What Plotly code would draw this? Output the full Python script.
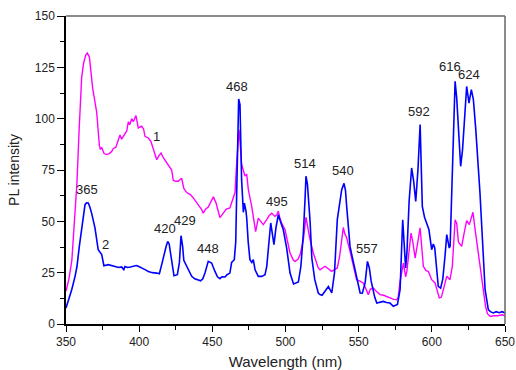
import plotly.graph_objects as go

# Series 1 (magenta)
wl1 = [350,352,354,356,357.5,359,360.7,362,363.5,364.6,366,368.2,369.5,371,372.8,373.5,374.4,376,377.8,379.5,
       381.2,382.3,384,385.5,386.9,388,389.5,391.5,392.6,393.5,394.9,396,397.8,399.4,401.7,403,404,406.3,408,409.7,
       412,413.5,415,416.5,418,420,422.2,423.3,425,426.7,429,430.5,432.5,435,437,440.4,442.5,443.8,445.5,447.2,
       450.7,452.5,455.2,457.5,459.5,462,464.3,465.5,466.6,468.2,469,470,471.5,472.3,473.5,474.6,476.9,478.5,479.6,481.4,
       483,484.8,487.2,489,490.6,492.8,494,495.1,496,497.4,499.7,500.8,503.1,505.4,506.5,508.5,510,512.2,514,515,
       516.5,519,521.3,522.4,523.6,525,527,529,531.6,533.5,535.4,537,538.5,539.5,540.5,541.8,544.1,546,548.6,550.5,
       553.2,555,556.6,558,560,562,564.6,567,571.4,574,576,577,578.3,580.6,582.1,583,585.8,587,588.6,590,
       592,594.2,596,597.6,599.9,602.2,603.5,605.1,606.5,607.8,610.2,612.4,614,615.9,617,618.2,620.4,622,623.8,625.6,
       628.1,629.9,631.5,633.3,635,636.7,638,640,642,645,648,650]
pl1 = [16,22,31,50,69,95,120,127,131,132,130,115,110,103,87,85,86,83,82.5,83,
       84,85.5,86,89,92,90,92,94,98.5,97,100,98.5,101.5,95.5,96.3,95,91.4,90.6,89,85,
       80,82,83.3,81,79.5,77,75,70,69.5,69.5,71,66,64,63,61.4,58,56,54,56,57,
       61.9,59,51.8,54,56,56.5,61.4,64,78,94.6,88,78,74,72,73,65.4,57.3,50,45,51.6,
       50,48.4,50.8,53,54,52.4,53,55,52,49,45.9,42.7,34.6,31,30.5,31.5,33.8,41,52,48,
       42,34.6,29,27.3,26.4,27,28.1,27,25.6,26.5,27.3,33,42,47,44,42,35.4,29,21.6,21,
       20,17,14.3,17,17.5,16,14.3,14,12.7,12,11.8,13,20.8,29.7,23,26,44.3,40,32.1,38,
       46.8,28.1,26,25.6,21.6,20,17,12.7,13,16.7,23.2,21.6,28,50.8,49,39.8,37.8,44,50.3,48.4,
       54.4,44.3,36,28.1,18,8.6,5,3.7,4,4,4.5,4]

# Series 2 (blue)
wl2 = [350,352,353.9,356.2,357.5,359.1,361.4,363,364,365.2,366.3,367.5,369.8,371,372,374.4,375.9,378.9,381,383.5,
       386,388,389.5,390.3,392,394,396,398,399.4,402,404,406.3,409,412,413.8,415.4,417.2,418.5,419.5,420.5,
       421.6,423,423.8,426.1,427.5,428.6,429.7,430.5,432.5,434,435.9,438,440.4,442,443.5,445,447.2,449.5,451.8,453.5,
       455.2,456.5,458.7,460,462,463.2,465,466,466.6,467.5,468,468.9,469.5,470,471.2,471.9,473,473.5,474.5,475.7,
       477,478,479.2,480.3,481.4,483.7,486,487.2,488.5,489.9,491,492.1,493.5,495.1,496.5,497.4,498.5,500.8,502,503.1,
       505.5,508.8,510.5,512.2,513.3,514,515,516.3,516.8,518,520,522.4,523.6,525,527,529.3,531.6,533.5,535.4,537,
       538.4,540,541,541.8,543,544.1,545.5,547.5,549.5,551,552.5,554.4,556,557.3,558.5,559.6,561,562.4,564.5,566.9,
       569,571.4,573.7,576.5,578.3,579.5,580.1,581,582.1,583,584.5,586.2,587.5,589,590.5,592,593.5,595,596.5,598,
       599.9,601,602,603,604.4,606,607.5,609,610.2,611.9,612.5,613.6,614.8,615.9,617,618.5,619.7,621,622.5,623.8,
       625.4,627,628.4,630,632.9,634.5,636.4,638.6,640,642,644,646,648,650]
pl2 = [7.8,12,16.7,23.2,28,37.8,50,58.1,59,58.9,57,54,46.8,40,36.2,33.8,28.4,28.9,28.5,28.1,
       27.5,27.8,26.5,28,27.5,27.8,28.1,28.5,28.1,27,26.5,25.6,25,24.8,24.5,28.9,34.6,38,40.2,39,
       33.8,26,23.5,24,30,43,37.8,31,28.1,26,23.2,22,21.2,21,22,25,30.5,29.7,25.6,23,
       22.1,23,22.9,24,24.8,30,31.3,40,62,95,109.6,106.8,90,70.3,54.4,58.9,55,51.6,40,31.3,
       30,31.3,26.4,24.8,23.2,23.2,24,28.1,40,49.2,44,38.6,47,53.2,50,47.5,45.9,37,28.9,24.8,
       19.5,20.5,28,44,60,72,68,57.3,50,32,21.6,15.1,14.3,14,15.9,18.3,15.1,25,50.8,60,
       65.4,68.5,65,57.3,45,37.8,33,26.4,20,15.1,15,20,30.5,27.3,21,16.7,13,10.2,10.5,11,
       10.5,10.2,8.6,9.5,16.7,35,50.8,40,27.3,35,60,76,70,59.7,75,97.1,57.3,52,49.2,46,
       36.2,39,37,28,18.3,17.5,22,33,43.5,37,38,63.8,95,118.2,110,90,76.8,85,100,115.7,
       107.6,114.1,109.3,95,63.8,40,16.7,7,6,5.4,6,5.5,6,5.4]

# Peak labels
peak_text = ["365","420","429","448","468","495","514","540","557","592","616","624","1","2"]
peak_x = [364.1,417.5,431.5,447.3,467.1,494.4,513.3,539.5,555.9,591.5,612.5,625.5,412,376.7]
peak_y = [65.4,46.3,50.5,37,115.7,59.7,78.4,74.8,36.7,103.6,125.5,121.5,91.4,38.6]

fig = go.Figure()
fig.add_trace(go.Scatter(x=wl1, y=pl1, mode="lines", line=dict(color="#FF00FF", width=1.4), showlegend=False))
fig.add_trace(go.Scatter(x=wl2, y=pl2, mode="lines", line=dict(color="#0000FF", width=1.6), showlegend=False))

for t, x, y in zip(peak_text, peak_x, peak_y):
    fig.add_annotation(x=x, y=y, text=t, showarrow=False,
                       font=dict(family="Liberation Sans, Arial", size=13, color="#222222"))

fig.add_shape(type="line", xref="paper", yref="paper", x0=0, x1=1, y0=1, y1=1,
              line=dict(color="#666666", width=1.5))
fig.add_shape(type="line", xref="paper", yref="paper", x0=1, x1=1, y0=0, y1=1,
              line=dict(color="#666666", width=1.5))

fig.update_layout(
    width=516, height=370,
    margin=dict(l=66, r=11, t=16, b=46),
    paper_bgcolor="white", plot_bgcolor="white",
    font=dict(family="Liberation Sans, Arial", size=12, color="#222222"),
    xaxis=dict(range=[350, 650], tickvals=[350,400,450,500,550,600,650], automargin=False,
               showgrid=False, zeroline=False, showline=True, linecolor="black", linewidth=1.5,
               ticks="outside", ticklen=6, tickcolor="black", tickwidth=1,
               minor=dict(tickvals=[375,425,475,525,575,625], ticks="outside", ticklen=4, tickcolor="black"),
               title=dict(text="Wavelength (nm)", font=dict(size=15), standoff=12)),
    yaxis=dict(range=[0, 150], tickvals=[0,25,50,75,100,125,150], automargin=False,
               showgrid=False, zeroline=False, showline=True, linecolor="black", linewidth=1.5,
               ticks="outside", ticklen=7, tickcolor="black", tickwidth=1,
               minor=dict(tickvals=[12.5,37.5,62.5,87.5,112.5,137.5], ticks="outside", ticklen=4, tickcolor="black"),
               title=dict(text="PL intensity", font=dict(size=14), standoff=12)),
)

fig.write_html("out.html")
